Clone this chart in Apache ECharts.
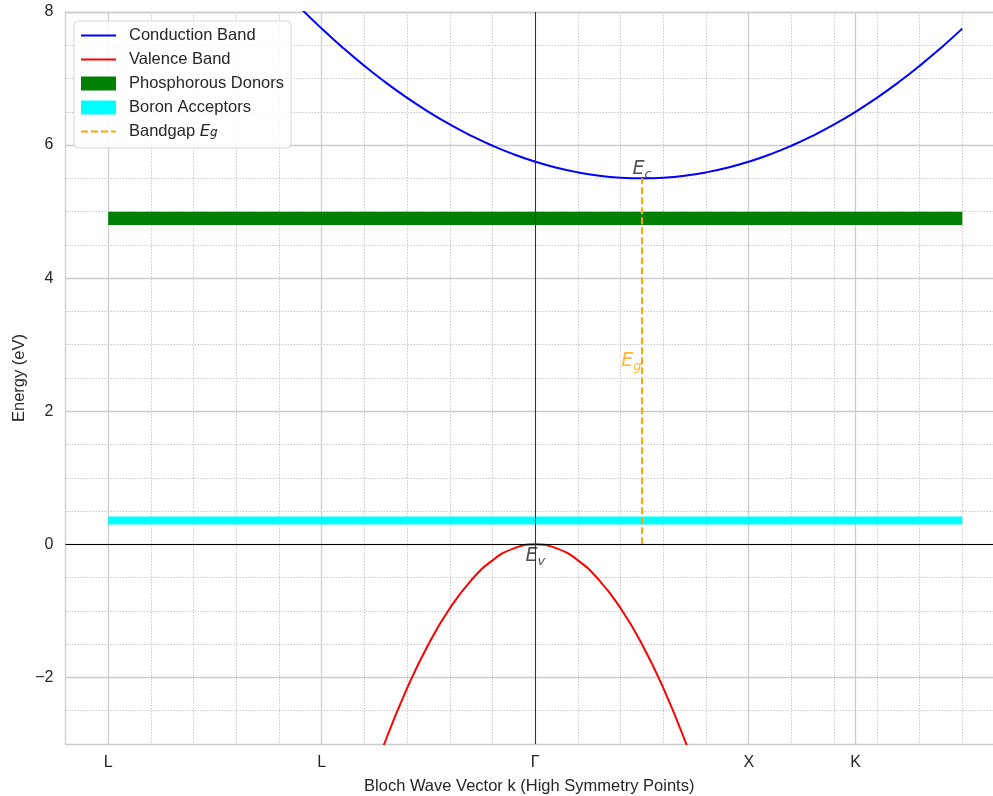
<!DOCTYPE html>
<html>
<head>
<meta charset="utf-8">
<script src="https://cdn.jsdelivr.net/npm/echarts@6/dist/echarts.min.js"></script>
<style>html,body{margin:0;padding:0;background:#fff}#c{width:993px;height:796px}</style>
</head>
<body>
<div id="c"></div>
<script>
// ---- data ----
const kTicks = [-1, -0.5, 0, 0.5, 0.75];
const kTickLabels = ['L', 'L', 'Γ', 'X', 'K'];
const yTicks = [-2, 0, 2, 4, 6, 8];

const conductionK = [-0.60,-0.55,-0.50,-0.45,-0.40,-0.35,-0.30,-0.25,-0.20,-0.15,-0.10,-0.05,0.00,0.05,0.10,0.15,0.20,0.25,0.30,0.35,0.40,0.45,0.50,0.55,0.60,0.65,0.70,0.75,0.80,0.85,0.90,0.95,1.00];
const conductionE = [8.39,8.06,7.75,7.46,7.19,6.94,6.71,6.50,6.31,6.14,5.99,5.86,5.75,5.66,5.59,5.54,5.51,5.50,5.51,5.54,5.59,5.66,5.75,5.86,5.99,6.14,6.31,6.50,6.71,6.94,7.19,7.46,7.75];

const valenceK = [-0.45,-0.40,-0.35,-0.30,-0.25,-0.20,-0.15,-0.10,-0.05,0.00,0.05,0.10,0.15,0.20,0.25,0.30,0.35,0.40,0.45];
const valenceE = [-4.86,-3.84,-2.94,-2.16,-1.50,-0.96,-0.54,-0.24,-0.06,0.00,-0.06,-0.24,-0.54,-0.96,-1.50,-2.16,-2.94,-3.84,-4.86];

const donorBand = [-1, 1, 4.8, 5.0];      // kStart, kEnd, Elow, Ehigh
const acceptorBand = [-1, 1, 0.30, 0.42];

const bandgapK = [0.25, 0.25];
const bandgapE = [0.0, 5.5];

const ecPoint = [0.25, 5.5];
const evPoint = [0, 0];
const egPoint = [0.25, 2.75];

// ---- chart ----
const TXT = '#262626';
const FONT = '"Liberation Sans", Arial, "DejaVu Sans", sans-serif';
const zip = (a, b) => a.map((v, i) => [v, b[i]]);

const xMin = -1.1, xMax = 1.072;
const majorColors = [];
for (let i = 0; i <= 44; i++) {
  const v = Math.round((xMin + 0.05 * i) * 100) / 100;
  majorColors.push(kTicks.some(t => Math.abs(t - v) < 1e-6) ? '#cccccc' : 'rgba(0,0,0,0)');
}

function bandRender(color) {
  return function (params, api) {
    const p0 = api.coord([api.value(0), api.value(3)]);
    const p1 = api.coord([api.value(1), api.value(2)]);
    return {
      type: 'rect',
      shape: { x: p0[0], y: p0[1], width: p1[0] - p0[0], height: p1[1] - p0[1] },
      style: { fill: color }
    };
  };
}

const mathRich = (size, color) => ({
  i: { fontStyle: 'italic', fontSize: size, fontFamily: '"DejaVu Sans", sans-serif', color: color, lineHeight: size + 4, verticalAlign: 'middle' },
  s: { fontStyle: 'italic', fontSize: Math.round(size * 0.7), fontFamily: '"DejaVu Sans", sans-serif', color: color, lineHeight: size * 0.6, verticalAlign: 'bottom' }
});

const spine = { show: true, onZero: false, lineStyle: { color: '#cccccc', width: 1.3 } };
const hideSym = { opacity: 0 };

const chart = echarts.init(document.getElementById('c'), null, { renderer: 'canvas' });
chart.setOption({
  animation: false,
  backgroundColor: '#ffffff',
  textStyle: { fontFamily: FONT },
  grid: { left: 65.5, top: 12, right: 0, height: 732, show: false, containLabel: false, outerBoundsMode: 'none' },
  legend: {
    left: 74, top: 21, orient: 'vertical',
    padding: [6, 7, 8, 6],
    itemWidth: 35, itemHeight: 14, itemGap: 7,
    backgroundColor: 'rgba(255,255,255,0.85)',
    borderColor: '#d6d6d6', borderWidth: 1, borderRadius: 4,
    lineStyle: { width: 2 },
    textStyle: { fontSize: 16.5, color: TXT, lineHeight: 14, padding: [0, 0, 0, 8], fontFamily: FONT, rich: {
      i: { fontStyle: 'italic', fontSize: 16.5, color: TXT, fontFamily: '"DejaVu Sans", sans-serif' },
      s: { fontStyle: 'italic', fontSize: 12, color: TXT, fontFamily: '"DejaVu Sans", sans-serif', verticalAlign: 'bottom', lineHeight: 8 }
    } },
    formatter: n => n === 'Bandgap Eg' ? 'Bandgap {i|E}{s|g}' : n,
    data: [
      { name: 'Conduction Band', itemStyle: hideSym },
      { name: 'Valence Band', itemStyle: hideSym },
      { name: 'Phosphorous Donors', icon: 'rect', itemStyle: { color: '#008000' } },
      { name: 'Boron Acceptors', icon: 'rect', itemStyle: { color: '#00ffff' } },
      { name: 'Bandgap Eg', itemStyle: hideSym }
    ]
  },
  xAxis: [
    {
      type: 'value', min: xMin, max: xMax, interval: 0.05, position: 'bottom', z: 1,
      name: 'Bloch Wave Vector k (High Symmetry Points)', nameLocation: 'middle', nameGap: 34,
      nameMoveOverlap: false,
      nameTextStyle: { fontSize: 16.5, color: TXT, fontFamily: FONT },
      axisLine: spine, axisTick: { show: false },
      axisLabel: {
        interval: 0, margin: 11, fontSize: 16, color: TXT, fontFamily: FONT, showMinLabel: true, showMaxLabel: true,
        formatter: v => { const i = kTicks.findIndex(t => Math.abs(t - v) < 1e-6); return i >= 0 ? kTickLabels[i] : ''; }
      },
      splitLine: { show: true, showMaxLine: false, lineStyle: { color: majorColors, width: 1.3 } }
    },
    {
      type: 'value', min: xMin, max: xMax, interval: 0.1, position: 'top', z: 0,
      axisLine: spine, axisTick: { show: false }, axisLabel: { show: false },
      splitLine: { show: true, showMaxLine: false, lineStyle: { color: '#bdbdbd', width: 0.8, type: [1.5, 1.5] } }
    }
  ],
  yAxis: [
    {
      type: 'value', min: -3, max: 8, interval: 1, z: 1,
      name: 'Energy (eV)', nameLocation: 'middle', nameGap: 38,
      nameMoveOverlap: false,
      nameTextStyle: { fontSize: 16.5, color: TXT, fontFamily: FONT },
      axisLine: spine, axisTick: { show: false },
      axisLabel: {
        margin: 12, fontSize: 16, color: TXT, fontFamily: FONT,
        formatter: v => yTicks.includes(v) ? (v < 0 ? '\u2212' + (-v) : String(v)) : ''
      },
      splitLine: { show: true, lineStyle: { color: ['rgba(0,0,0,0)', '#cccccc'], width: 1.3 } }
    },
    {
      type: 'value', min: -3, max: 8, interval: 0.5, position: 'right', z: 0,
      axisLine: { show: false }, axisTick: { show: false }, axisLabel: { show: false },
      splitLine: { show: true, lineStyle: { color: '#bdbdbd', width: 0.8, type: [1.5, 1.5] } }
    }
  ],
  series: [
    {
      name: 'Phosphorous Donors', type: 'custom', z: 2,
      itemStyle: { color: '#008000' },
      encode: { x: [0, 1], y: [2, 3] },
      renderItem: bandRender('#008000'),
      data: [donorBand]
    },
    {
      name: 'Boron Acceptors', type: 'custom', z: 2,
      itemStyle: { color: '#00ffff' },
      encode: { x: [0, 1], y: [2, 3] },
      renderItem: bandRender('#00ffff'),
      data: [acceptorBand]
    },
    {
      name: 'zero', type: 'line', z: 3, data: [], symbol: 'none', silent: true,
      markLine: {
        silent: true, symbol: 'none', label: { show: false },
        data: [
          { yAxis: 0, lineStyle: { color: '#000000', width: 1.2, type: 'solid' } },
          { xAxis: 0, lineStyle: { color: '#333333', width: 1, type: 'solid' } }
        ]
      }
    },
    {
      name: 'Conduction Band', type: 'line', z: 4, symbol: 'none', smooth: true, clip: true,
      color: '#0000ff', lineStyle: { color: '#0000ff', width: 2 },
      data: zip(conductionK, conductionE)
    },
    {
      name: 'Valence Band', type: 'line', z: 4, symbol: 'none', smooth: true, clip: true,
      color: '#ff0000', lineStyle: { color: '#ff0000', width: 2 },
      data: zip(valenceK, valenceE)
    },
    {
      name: 'Bandgap Eg', type: 'line', z: 4, symbol: 'none',
      color: '#ffa500', lineStyle: { color: '#ffa500', width: 2, type: [7, 3] },
      data: zip(bandgapK, bandgapE)
    },
    {
      name: 'labels', type: 'scatter', z: 5, symbolSize: 1, silent: true,
      itemStyle: { color: 'rgba(0,0,0,0)' },
      data: [
        { value: ecPoint, label: { show: true, position: 'top', distance: 0, offset: [0, 3], formatter: '{i|E}{s|c}', rich: mathRich(19, TXT) } },
        { value: evPoint, label: { show: true, position: 'bottom', distance: 0, formatter: '{i|E}{s|v}', rich: mathRich(19, TXT) } },
        { value: egPoint, label: { show: true, position: 'left', distance: 0, formatter: '{i|E}{s|g}', rich: mathRich(19, '#ffa500') } }
      ]
    }
  ]
});
</script>
</body>
</html>
